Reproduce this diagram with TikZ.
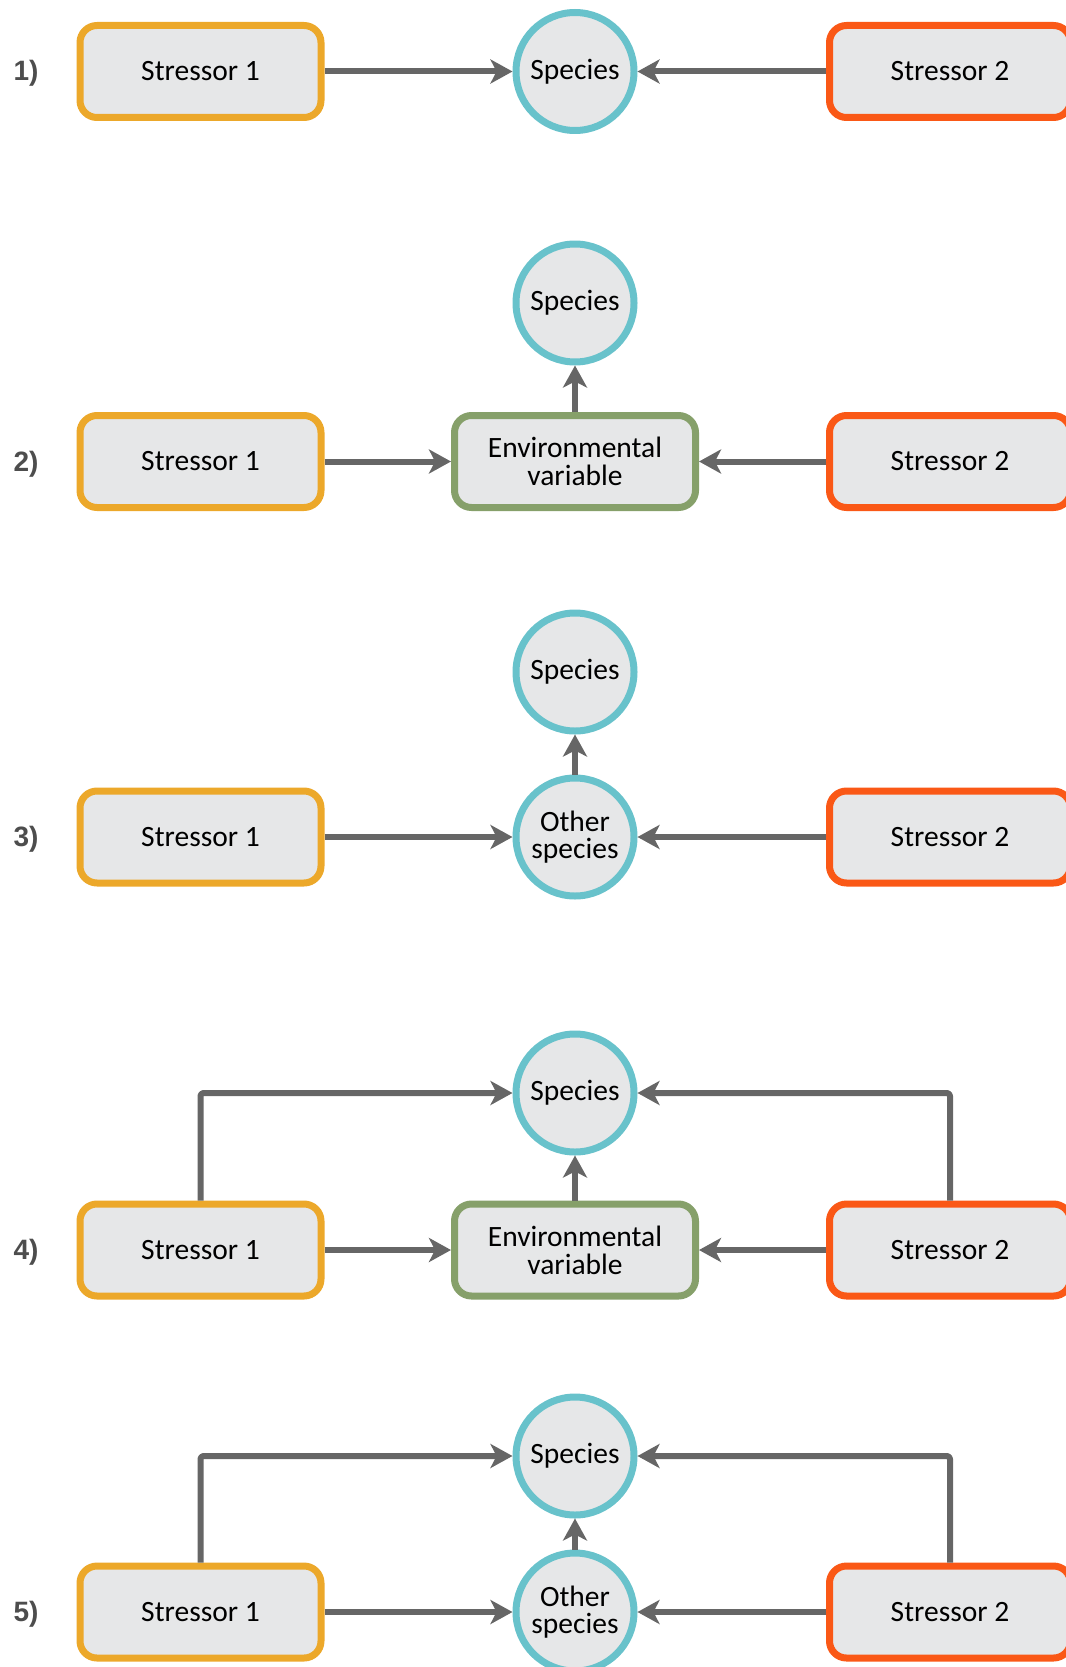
\documentclass[tikz,border=0pt]{standalone}
\usepackage{fontspec}
\setmainfont{Carlito}
\newfontfamily\rowfont{Liberation Sans}
\usetikzlibrary{arrows.meta,positioning}
\definecolor{stressgold}{RGB}{236,168,42}
\definecolor{stressred}{RGB}{250,88,22}
\definecolor{speciesteal}{RGB}{104,194,203}
\definecolor{envgreen}{RGB}{134,160,106}
\definecolor{cellgray}{RGB}{230,231,232}
\definecolor{linkgray}{RGB}{102,102,102}
\definecolor{rowgray}{RGB}{77,77,77}

\begin{document}
\begin{tikzpicture}[x=1pt,y=-1pt,line join=round,
 >={Stealth[length=22pt,width=24pt,inset=6pt]},
 stressbox/.style={draw=#1,fill=cellgray,line width=7pt,rounded corners=17pt,
  minimum width=241pt,minimum height=92pt,inner sep=0pt,align=center,
  font=\fontsize{29.5}{28}\selectfont},
 spcircle/.style={circle,draw=speciesteal,fill=cellgray,line width=7pt,
  minimum size=118pt,inner sep=0pt,align=center,
  font=\fontsize{29.5}{27.5}\selectfont},
 link/.style={->,draw=linkgray,line width=6pt},
 rowlabel/.style={anchor=base,text=rowgray,
  font=\rowfont\bfseries\fontsize{28}{28}\selectfont}]
\useasboundingbox (0,0) rectangle (1065,1667);
% 1) dwa stresory dzialaja wprost na gatunek
\node[rowlabel] (lab-1) at (26,81) {1)};
\node[stressbox=stressgold] (s1-1) at (200.5,71.5) {Stressor 1};
\node[spcircle] (sp-1) at (575,71.5) {Species};
\node[stressbox=stressred] (s2-1) at (950,71.5) {Stressor 2};
\draw[link] (s1-1.east) -- (sp-1.west);
\draw[link] (s2-1.west) -- (sp-1.east);
% 2) przez zmienna srodowiskowa
\node[rowlabel] (lab-2) at (26,471) {2)};
\node[stressbox=stressgold] (s1-2) at (200.5,461.5) {Stressor 1};
\node[stressbox=envgreen] (env-2) at (575,461.5) {Environmental\\variable};
\node[stressbox=stressred] (s2-2) at (950,461.5) {Stressor 2};
\node[spcircle] (sp-2) at (575,303) {Species};
\draw[link] (s1-2.east) -- (env-2.west);
\draw[link] (s2-2.west) -- (env-2.east);
\draw[link] (env-2.north) -- (sp-2.south);
% 3) przez inny gatunek
\node[rowlabel] (lab-3) at (26,846.5) {3)};
\node[stressbox=stressgold] (s1-3) at (200.5,837) {Stressor 1};
\node[spcircle] (oth-3) at (575,837) {Other\\species};
\node[stressbox=stressred] (s2-3) at (950,837) {Stressor 2};
\node[spcircle] (sp-3) at (575,672) {Species};
\draw[link] (s1-3.east) -- (oth-3.west);
\draw[link] (s2-3.west) -- (oth-3.east);
\draw[link] (oth-3.north) -- (sp-3.south);
% 4) wprost i przez zmienna srodowiskowa
\node[rowlabel] (lab-4) at (26,1259.5) {4)};
\node[stressbox=stressgold] (s1-4) at (200.5,1250) {Stressor 1};
\node[stressbox=envgreen] (env-4) at (575,1250) {Environmental\\variable};
\node[stressbox=stressred] (s2-4) at (950,1250) {Stressor 2};
\node[spcircle] (sp-4) at (575,1093) {Species};
\draw[link] (s1-4.east) -- (env-4.west);
\draw[link] (s2-4.west) -- (env-4.east);
\draw[link] (env-4.north) -- (sp-4.south);
\draw[link,rounded corners=3pt] (s1-4.north) |- (sp-4.west);
\draw[link,rounded corners=3pt] (s2-4.north) |- (sp-4.east);
% 5) wprost i przez inny gatunek
\node[rowlabel] (lab-5) at (26,1621.5) {5)};
\node[stressbox=stressgold] (s1-5) at (200.5,1612) {Stressor 1};
\node[spcircle] (oth-5) at (575,1612) {Other\\species};
\node[stressbox=stressred] (s2-5) at (950,1612) {Stressor 2};
\node[spcircle] (sp-5) at (575,1456) {Species};
\draw[link] (s1-5.east) -- (oth-5.west);
\draw[link] (s2-5.west) -- (oth-5.east);
\draw[link] (oth-5.north) -- (sp-5.south);
\draw[link,rounded corners=3pt] (s1-5.north) |- (sp-5.west);
\draw[link,rounded corners=3pt] (s2-5.north) |- (sp-5.east);
\end{tikzpicture}
\end{document}
